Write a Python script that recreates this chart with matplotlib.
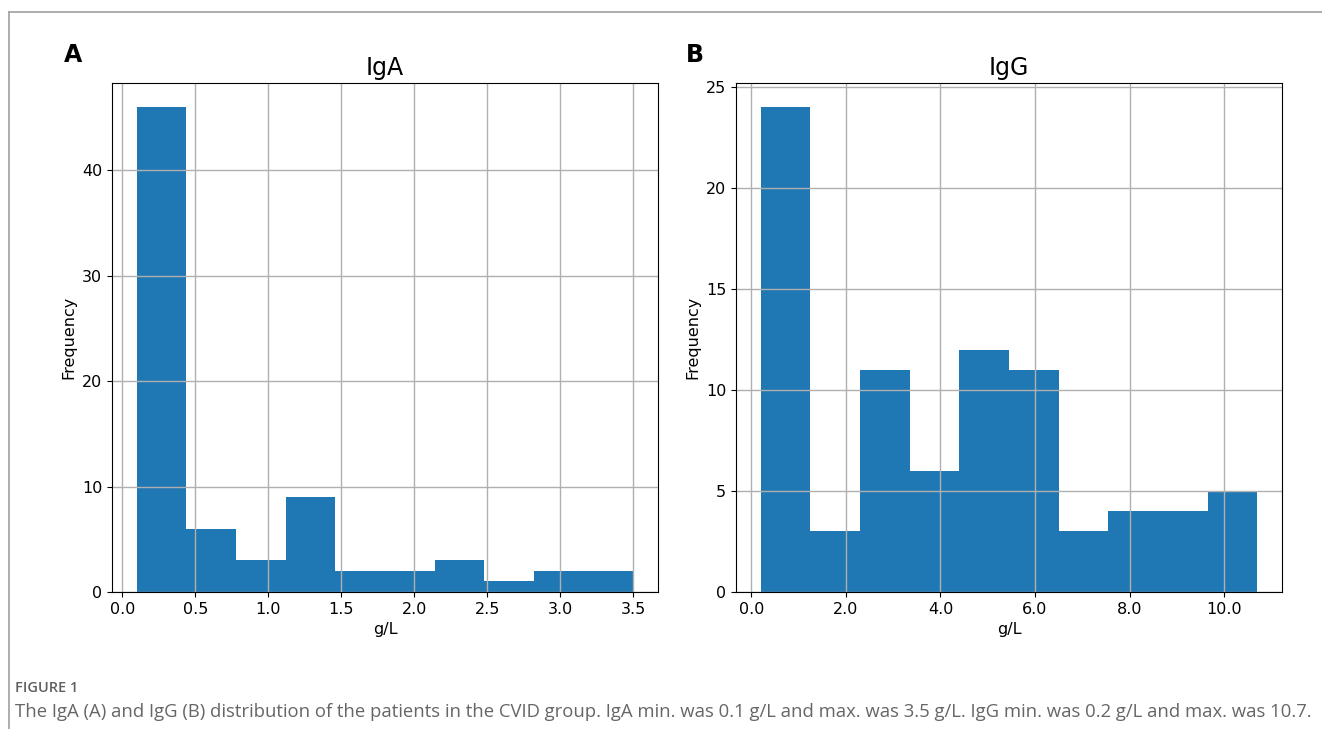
import numpy as np
import matplotlib.pyplot as plt
from matplotlib.lines import Line2D
from matplotlib.ticker import FormatStrFormatter

# IgA histogram (g/L), 10 bins between min and max
iga_min, iga_max = 0.1, 3.5
iga_counts = [46, 6, 3, 9, 2, 2, 3, 1, 2, 2]

# IgG histogram (g/L)
igg_min, igg_max = 0.2, 10.7
igg_counts = [24, 3, 11, 6, 12, 11, 3, 4, 4, 5]

caption_head = "FIGURE 1"
caption_text = ("The IgA (A) and IgG (B) distribution of the patients in the CVID group. "
                "IgA min. was 0.1 g/L and max. was 3.5 g/L. IgG min. was 0.2 g/L and max. was 10.7.")

fig = plt.figure(figsize=(13.22, 7.29), dpi=100)
W, H = 1322, 729

ax1 = fig.add_axes([112 / W, 1 - 592 / H, 546 / W, 509 / H])
ax2 = fig.add_axes([736 / W, 1 - 592 / H, 546 / W, 509 / H])

panels = [(ax1, "IgA", "A", iga_min, iga_max, iga_counts),
          (ax2, "IgG", "B", igg_min, igg_max, igg_counts)]

for ax, title, letter, lo, hi, counts in panels:
    edges = np.linspace(lo, hi, len(counts) + 1)
    ax.hist(edges[:-1], bins=edges, weights=counts, color="#1f77b4")
    ax.grid(True, color="#b0b0b0", linewidth=1)
    ax.set_title(title, fontsize=17, pad=6)
    ax.set_xlabel("g/L", fontsize=11.5)
    ax.set_ylabel("Frequency", fontsize=11.5)
    ax.tick_params(labelsize=11.5)
    ax.xaxis.set_major_formatter(FormatStrFormatter("%.1f"))

ax2.set_yticks([0, 5, 10, 15, 20, 25])

fig.text(64 / W, 1 - 55 / H, "A", fontsize=17, fontweight="bold", va="center")
fig.text(686 / W, 1 - 55 / H, "B", fontsize=17, fontweight="bold", va="center")

# frame lines around the figure block
fig.add_artist(Line2D([9 / W, 1], [1 - 12 / H, 1 - 12 / H], color="#a0a0a0", linewidth=1.2))
fig.add_artist(Line2D([9 / W, 9 / W], [0, 1 - 12 / H], color="#a0a0a0", linewidth=1.2))

fig.text(15 / W, 1 - 688 / H, caption_head, fontsize=10.5, color="#606060",
         family="Open Sans", fontweight="semibold", va="center")
fig.text(15 / W, 1 - 712 / H, caption_text, fontsize=13.3, color="#666666",
         family="Open Sans", va="center")

fig.savefig("out.png", dpi=100)
